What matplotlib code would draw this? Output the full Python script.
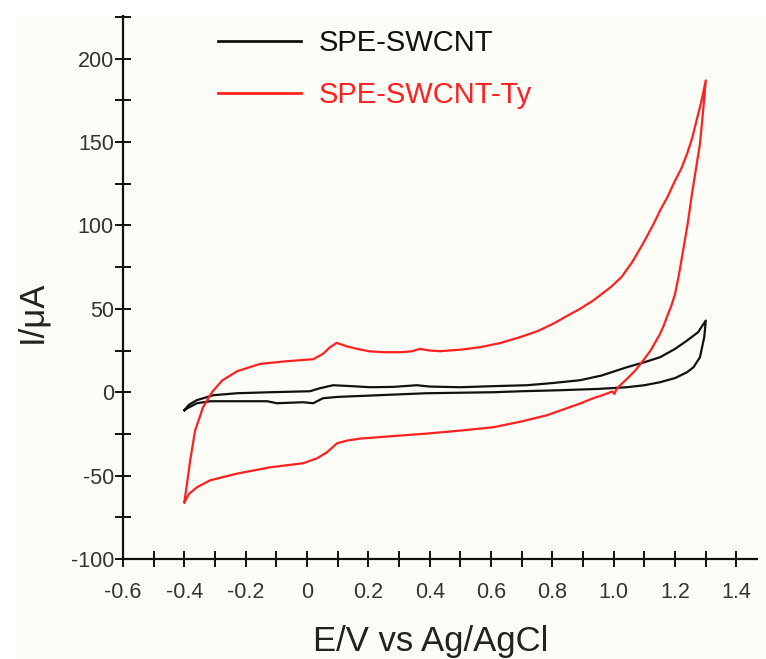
import numpy as np
import matplotlib.pyplot as plt
from matplotlib.patches import Rectangle

plt.rcParams["font.family"] = ["Liberation Sans", "DejaVu Sans"]
plt.rcParams["axes.unicode_minus"] = False

# ==================================================
# Data
# ==================================================
# SPE-SWCNT-Ty, anodic scan -0.4 -> 1.3 V
ty_fwd_E = [-0.400, -0.381, -0.365, -0.339, -0.310, -0.277, -0.228, -0.153, -0.066, 0.020,
            0.052, 0.075, 0.097, 0.130, 0.163, 0.205, 0.250, 0.303, 0.340, 0.368,
            0.400, 0.434, 0.500, 0.564, 0.630, 0.694, 0.750, 0.802, 0.850, 0.890,
            0.933, 0.990, 1.025, 1.060, 1.095, 1.130, 1.151, 1.175, 1.200, 1.220,
            1.239, 1.255, 1.270, 1.285, 1.300]
ty_fwd_I = [-66, -41, -23, -9, 0, 7, 12.6, 17, 18.6, 19.8,
            23, 27, 29.6, 27.5, 26, 24.5, 24, 24, 24.5, 26,
            25, 24.6, 25.5, 27, 29.5, 33, 36.5, 41, 46, 50,
            55, 63, 69, 78, 89, 101, 109, 117, 127, 134,
            143, 152, 163, 174, 187]
# SPE-SWCNT-Ty, cathodic scan 1.3 -> -0.4 V
ty_rev_E = [1.300, 1.291, 1.281, 1.268, 1.255, 1.241, 1.226, 1.213, 1.200, 1.188,
            1.175, 1.163, 1.151, 1.120, 1.096, 1.070, 1.043, 1.020, 1.008, 1.002,
            0.996, 0.960, 0.933, 0.890, 0.825, 0.782, 0.700, 0.607, 0.500, 0.390,
            0.280, 0.173, 0.130, 0.098, 0.065, 0.033, -0.013, -0.120, -0.228, -0.316,
            -0.359, -0.385, -0.400]
ty_rev_I = [187, 168, 149, 134, 119, 101, 85, 71, 59, 52,
            46, 40, 35, 25, 19, 13, 8, 4, 1.5, -1.0,
            0.5, -2, -3.6, -6.8, -11, -13.8, -17.5, -21, -23, -24.8,
            -26.3, -27.8, -29, -30.6, -36, -39.6, -42.6, -45, -48.8, -52.8,
            -57, -61, -66]

# SPE-SWCNT, anodic scan
sw_fwd_E = [-0.400, -0.385, -0.360, -0.306, -0.228, -0.120, 0.010, 0.042, 0.085, 0.150,
            0.205, 0.280, 0.358, 0.400, 0.500, 0.600, 0.717, 0.800, 0.890, 0.960,
            1.043, 1.100, 1.151, 1.200, 1.239, 1.275, 1.300]
sw_fwd_I = [-10.8, -7.5, -4.8, -1.8, -0.6, 0, 0.6, 2.4, 4.2, 3.6,
            3, 3.2, 4.2, 3.4, 3, 3.6, 4.2, 5.5, 7.2, 10,
            15, 18, 21, 26, 31, 36, 43]
# SPE-SWCNT, cathodic scan
sw_rev_E = [1.300, 1.295, 1.281, 1.260, 1.239, 1.200, 1.151, 1.100, 1.043, 0.950,
            0.825, 0.700, 0.607, 0.390, 0.205, 0.100, 0.052, 0.020, -0.013, -0.098,
            -0.130, -0.228, -0.316, -0.359, -0.390, -0.400]
sw_rev_I = [43, 33, 21, 15, 12, 8.5, 6, 4.2, 3, 2,
            1.2, 0.6, 0, -0.6, -2.0, -2.8, -3.6, -6.6, -6, -6.6,
            -5.4, -5.4, -5.4, -6.6, -9.6, -10.8]

labels = ["SPE-SWCNT", "SPE-SWCNT-Ty"]
colors = ["#111111", "#ff2020"]

x_ticks = [-0.6, -0.4, -0.2, 0.0, 0.2, 0.4, 0.6, 0.8, 1.0, 1.2, 1.4]
x_ticklabels = ["-0.6", "-0.4", "-0.2", "0", "0.2", "0.4", "0.6", "0.8", "1.0", "1.2", "1.4"]
y_ticks = [-100, -50, 0, 50, 100, 150, 200]

# ==================================================
# Figure
# ==================================================
fig = plt.figure(figsize=(7.66, 6.59), dpi=100)
fig.patches.append(Rectangle((16 / 766, 0), 1, 1 - 16 / 659, transform=fig.transFigure,
                             facecolor="#fdfdf8", edgecolor="none", zorder=-10))

ax = fig.add_axes([123 / 766, 1 - 559 / 659, (757 - 123) / 766, (559 - 16) / 659])
ax.set_facecolor("none")

ax.plot(sw_fwd_E + sw_rev_E, sw_fwd_I + sw_rev_I, color=colors[0], lw=1.6, label=labels[0])
ax.plot(ty_fwd_E + ty_rev_E, ty_fwd_I + ty_rev_I, color=colors[1], lw=1.6, label=labels[1])

ax.set_xlim(-0.6, 1.467)
ax.set_ylim(-100, 225.6)

for side in ["top", "right"]:
    ax.spines[side].set_visible(False)
for side in ["left", "bottom"]:
    ax.spines[side].set_linewidth(1.6)
    ax.spines[side].set_color("#111111")

ax.set_xticks(x_ticks)
ax.set_xticklabels(x_ticklabels)
ax.set_xticks(np.arange(-0.5, 1.45, 0.2), minor=True)
ax.set_yticks(y_ticks)
ax.set_yticks(np.arange(-75, 226, 50), minor=True)

ax.tick_params(which="both", direction="inout", length=11, width=1.4, color="#111111",
               labelsize=15.5, labelcolor="#333333")
ax.tick_params(axis="x", pad=11)
ax.tick_params(axis="y", pad=1)

ax.set_xlabel("E/V vs Ag/AgCl", fontsize=25, color="#222222")
ax.xaxis.set_label_coords(0.486, -0.122)
ax.set_ylabel("I/\u03bcA", fontsize=25, color="#222222")
ax.yaxis.set_label_coords(-0.118, 0.455)

leg = ax.legend(loc="upper left", bbox_to_anchor=(0.132, 0.998), frameon=False,
                fontsize=21, handlelength=2.85, handletextpad=0.6, labelspacing=0.83,
                labelcolor="linecolor", borderaxespad=0)
for line in leg.get_lines():
    line.set_linewidth(2.0)

fig.savefig("out.png", dpi=100)
